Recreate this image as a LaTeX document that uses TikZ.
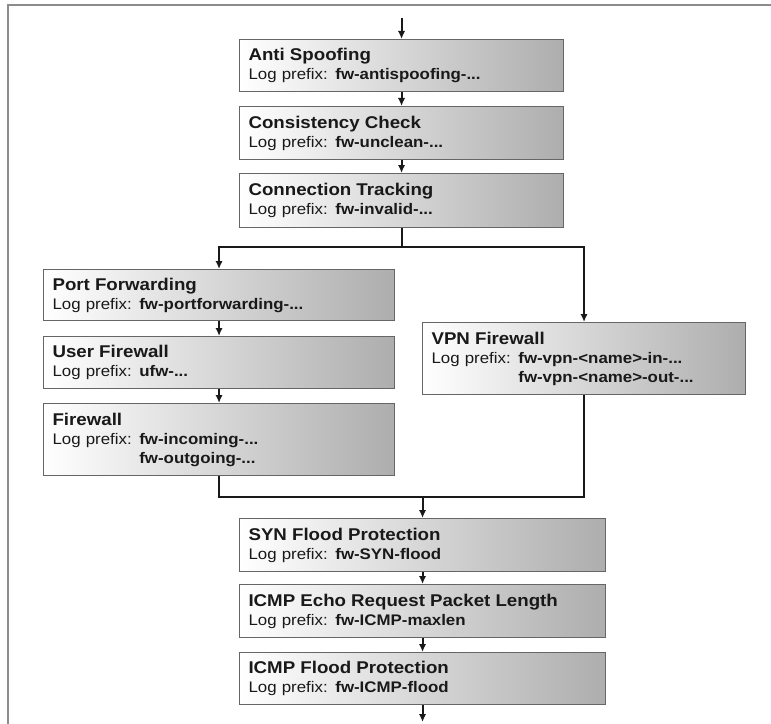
\documentclass[tikz,border=0pt]{standalone}
\usepackage{fontspec}
\setmainfont{Liberation Sans}[FakeStretch=1.1]
\usepackage{tikz}
\usepackage{xcolor}
\usetikzlibrary{arrows.meta}

\definecolor{framegray}{gray}{0.55}
\definecolor{boxedge}{gray}{0.4}
\definecolor{boxshade}{gray}{0.68}
\definecolor{boxmid}{gray}{0.9}
\definecolor{inkgray}{gray}{0.1}

\newcommand{\stagetitle}[1]{{\fontsize{12.75}{14.25}\selectfont\bfseries #1}}
\newcommand{\logpfx}{Log prefix: }

\begin{document}
\begin{tikzpicture}[x=0.75pt,y=-0.75pt,
        stagebox/.style={draw=boxedge,line width=0.8pt,left color=white,middle color=boxmid,right color=boxshade,
            anchor=north west,align=left,inner xsep=6.75pt,inner ysep=0pt,text=inkgray,
            font=\fontsize{11.5}{14.25}\selectfont},
        conn/.style={line width=1.5pt,inkgray},
        flow/.style={conn,-{Latex[length=6pt,width=5.5pt]}}]
        \useasboundingbox (0,0) rectangle (771,724);
        \draw[framegray,line width=1.5pt] (771,5) -- (8,5) -- (8,724);

        \node[stagebox,text width=229.5pt,minimum height=39pt] (anti) at (239,39)
            {\stagetitle{Anti Spoofing}\\ \logpfx\textbf{fw-antispoofing-...}};
        \node[stagebox,text width=229.5pt,minimum height=39.75pt] (consist) at (239,106)
            {\stagetitle{Consistency Check}\\ \logpfx\textbf{fw-unclean-...}};
        \node[stagebox,text width=229.5pt,minimum height=40.5pt] (conntrack) at (239,173)
            {\stagetitle{Connection Tracking}\\ \logpfx\textbf{fw-invalid-...}};

        \node[stagebox,text width=249.75pt,minimum height=38.25pt] (portfwd) at (43,269)
            {\stagetitle{Port Forwarding}\\ \logpfx\textbf{fw-portforwarding-...}};
        \node[stagebox,text width=249.75pt,minimum height=39pt] (userfw) at (43,336)
            {\stagetitle{User Firewall}\\ \logpfx\textbf{ufw-...}};
        \node[stagebox,text width=249.75pt,minimum height=54pt] (fw) at (43,403)
            {\stagetitle{Firewall}\\ \logpfx\textbf{fw-incoming-...}\\
             \phantom{\logpfx}\textbf{fw-outgoing-...}};

        \node[stagebox,text width=228.75pt,minimum height=54pt] (vpn) at (422,322)
            {\stagetitle{VPN Firewall}\\ \logpfx\textbf{fw-vpn-<name>-in-...}\\
             \phantom{\logpfx}\textbf{fw-vpn-<name>-out-...}};

        \node[stagebox,text width=261pt,minimum height=39.75pt] (syn) at (239,518)
            {\stagetitle{SYN Flood Protection}\\ \logpfx\textbf{fw-SYN-flood}};
        \node[stagebox,text width=261pt,minimum height=39.75pt] (echo) at (239,584)
            {\stagetitle{ICMP Echo Request Packet Length}\\ \logpfx\textbf{fw-ICMP-maxlen}};
        \node[stagebox,text width=261pt,minimum height=39pt] (icmpflood) at (239,652)
            {\stagetitle{ICMP Flood Protection}\\ \logpfx\textbf{fw-ICMP-flood}};

        \coordinate (in) at (anti.north |- 0,18);
        \coordinate (split) at (conntrack.south |- 0,247);
        \coordinate (join) at (syn.north |- 0,497);
        \coordinate (out) at (icmpflood.south |- 0,722);

        \draw[flow] (in) -- (anti.north);
        \draw[flow] (anti.south) -- (consist.north);
        \draw[flow] (consist.south) -- (conntrack.north);
        \draw[conn] (conntrack.south) -- (split);
        \draw[flow] (split) -| (portfwd.north);
        \draw[flow] (split) -| (vpn.north);
        \draw[flow] (portfwd.south) -- (userfw.north);
        \draw[flow] (userfw.south) -- (fw.north);
        \draw[conn] (fw.south) |- (join);
        \draw[conn] (vpn.south) |- (join);
        \draw[flow] (join) -- (syn.north);
        \draw[flow] (syn.south) -- (echo.north);
        \draw[flow] (echo.south) -- (icmpflood.north);
        \draw[flow] (icmpflood.south) -- (out);
    \end{tikzpicture}
\end{document}
